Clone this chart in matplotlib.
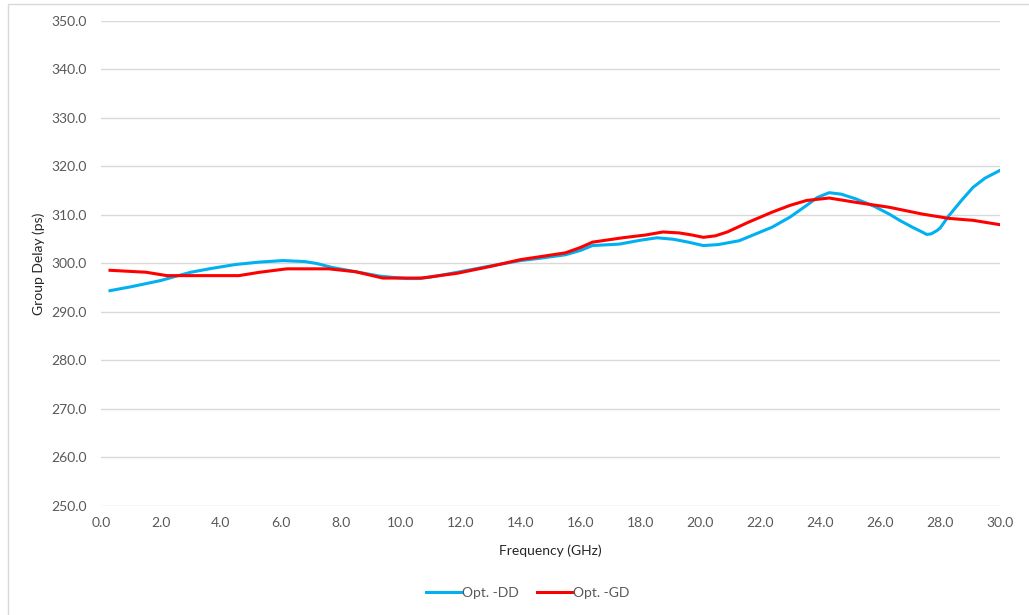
import matplotlib.pyplot as plt
from matplotlib.patches import Rectangle

plt.rcParams['font.family'] = ['Lato', 'DejaVu Sans']

# Datos
freq_dd = [0.3, 1.0, 2.0, 2.4, 3.0, 3.7, 4.5, 5.3, 6.07, 6.8, 7.2, 7.7, 8.5,
           9.3, 9.8, 10.2, 10.6, 11.0, 11.9, 13.0, 14.0, 14.55, 15.5, 16.0,
           16.4, 17.3, 18.0, 18.55, 19.1, 19.6, 20.1, 20.6, 21.3, 22.4, 23.0,
           23.55, 23.9, 24.3, 24.7, 25.2, 25.8, 26.3, 26.65, 27.1, 27.4, 27.55,
           27.7, 27.9, 28.0, 28.3, 28.7, 29.1, 29.5, 30.0]
delay_dd = [294.4, 295.2, 296.5, 297.2, 298.2, 299.0, 299.8, 300.3, 300.6,
            300.4, 300.0, 299.2, 298.3, 297.4, 297.1, 296.9, 296.9, 297.2,
            298.2, 299.5, 300.6, 301.0, 301.8, 302.7, 303.7, 304.0, 304.8,
            305.3, 305.0, 304.4, 303.7, 303.9, 304.7, 307.5, 309.6, 312.0,
            313.6, 314.6, 314.3, 313.3, 311.8, 310.2, 308.9, 307.4, 306.5,
            306.0, 306.1, 306.8, 307.3, 309.9, 312.9, 315.7, 317.6, 319.2]

freq_gd = [0.3, 1.5, 2.2, 3.5, 4.6, 5.3, 6.2, 7.6, 8.5, 9.4, 10.7, 11.9, 13.0,
           14.0, 14.65, 15.5, 16.0, 16.4, 17.4, 18.2, 18.75, 19.3, 19.7, 20.1,
           20.5, 20.9, 21.6, 22.4, 23.0, 23.55, 24.3, 25.2, 26.3, 27.4, 28.3,
           29.1, 30.0]
delay_gd = [298.6, 298.2, 297.5, 297.5, 297.5, 298.2, 298.9, 298.9, 298.3,
            297.0, 297.0, 298.0, 299.4, 300.8, 301.4, 302.2, 303.3, 304.4,
            305.3, 305.9, 306.5, 306.3, 305.9, 305.4, 305.7, 306.5, 308.5,
            310.6, 312.0, 313.0, 313.5, 312.6, 311.6, 310.2, 309.3, 308.9,
            308.0]

x_ticks = [0, 2, 4, 6, 8, 10, 12, 14, 16, 18, 20, 22, 24, 26, 28, 30]
y_ticks = [250, 260, 270, 280, 290, 300, 310, 320, 330, 340, 350]

gris = '#595959'

fig = plt.figure(figsize=(10.29, 6.15), dpi=100)
# borde del grafico
fig.patches.append(Rectangle((8 / 1029, -0.1), 1.2, 1 - 4 / 615 + 0.1,
                             transform=fig.transFigure, fill=False,
                             edgecolor='#d9d9d9', linewidth=1))

ax = fig.add_axes([101 / 1029, 1 - 506 / 615, 899 / 1029, 485 / 615])
ax.plot(freq_dd, delay_dd, color='#00b0f0', linewidth=2.2, label='Opt. -DD',
        solid_joinstyle='round')
ax.plot(freq_gd, delay_gd, color='#ff0000', linewidth=2.2, label='Opt. -GD',
        solid_joinstyle='round')

ax.set_xlim(0, 30)
ax.set_ylim(250, 350)
ax.set_xticks(x_ticks)
ax.set_xticklabels([f'{v:.1f}' for v in x_ticks])
ax.set_yticks(y_ticks)
ax.set_yticklabels([f'{v:.1f}' for v in y_ticks])
ax.tick_params(length=0, labelsize=10, labelcolor=gris)
ax.tick_params(axis='y', pad=10)
ax.tick_params(axis='x', pad=8)
ax.grid(axis='y', color='#d9d9d9', linewidth=1)
ax.set_axisbelow(True)
for s in ax.spines.values():
    s.set_visible(False)

ax.set_xlabel('Frequency (GHz)', fontsize=10, color='#262626', labelpad=11)
ax.set_ylabel('Group Delay (ps)', fontsize=10, color='#262626', labelpad=5)

fig.legend(loc='center', bbox_to_anchor=(528 / 1029, 1 - 593 / 615), ncol=2,
           frameon=False, fontsize=10, handlelength=2.5, handletextpad=0.1,
           columnspacing=1.3, labelcolor=gris)

fig.savefig('out.png', dpi=100)
